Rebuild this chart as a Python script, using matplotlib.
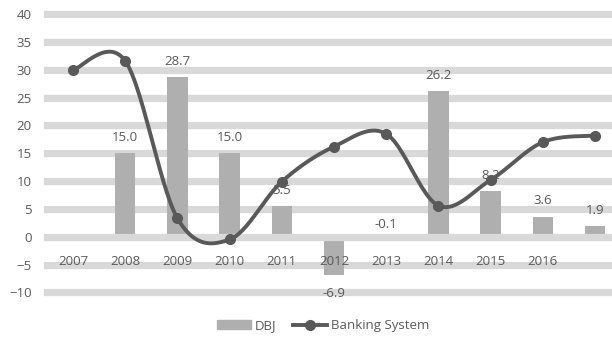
import numpy as np
import matplotlib.pyplot as plt

plt.rcParams['font.family'] = ['Open Sans', 'DejaVu Sans']

years = ['2007', '2008', '2009', '2010', '2011', '2012', '2013', '2014', '2015', '2016', '']
dbj = [np.nan, 15.0, 28.7, 15.0, 5.5, -6.9, -0.1, 26.2, 8.2, 3.6, 1.9]
banking = [30.0, 31.6, 3.3, -0.5, 9.9, 16.2, 18.5, 5.6, 10.2, 17.0, 18.2]

txt = '#595959'
bar_c = '#afafaf'
grid_c = '#d9d9d9'


def smooth(xs, ys, n=30):
    # Catmull-Rom curve through the points, like a spreadsheet "smoothed line"
    x = np.asarray(xs, float)
    y = np.asarray(ys, float)
    px = np.concatenate([[x[0]], x, [x[-1]]])
    py = np.concatenate([[y[0]], y, [y[-1]]])
    ox, oy = [], []
    t = np.linspace(0, 1, n)
    for i in range(1, len(px) - 2):
        for p, out in ((px, ox), (py, oy)):
            p0, p1, p2, p3 = p[i - 1], p[i], p[i + 1], p[i + 2]
            c = 0.5 * ((2 * p1) + (-p0 + p2) * t + (2 * p0 - 5 * p1 + 4 * p2 - p3) * t ** 2
                       + (-p0 + 3 * p1 - 3 * p2 + p3) * t ** 3)
            out.extend(c)
    return np.array(ox), np.array(oy)


fig = plt.figure(figsize=(6.12, 3.37), dpi=100)
ax = fig.add_axes([47 / 612, 44.7 / 337, 574 / 612, 278 / 337])
ax.set_xlim(-0.5, 10.5)
ax.set_ylim(-10, 40)

# grid bands behind the bars, except the zero line which sits on top
for v in range(-10, 41, 5):
    ax.axhline(v, color=grid_c, lw=5.2, zorder=1.3 if v == 0 else 0.5, clip_on=False)

xs = np.arange(len(years))
ax.bar(xs, dbj, width=0.39, color=bar_c, zorder=1.2, label='DBJ')

for x, v in zip(xs, dbj):
    if np.isnan(v):
        continue
    if v > -1:
        off = 12 if v < 0 else 16
        y = max(v, 0)
    else:
        off = -18
        y = v
    ax.annotate(f'{v:.1f}', (x, y), xytext=(0, off * 0.72), textcoords='offset points',
                ha='center', va='center', fontsize=9.5, color=txt, zorder=4)

sx, sy = smooth(xs, banking)
ax.plot(sx, sy, color='#595959', lw=2.8, zorder=5, solid_capstyle='round')
ax.plot(xs, banking, 'o', color='#595959', ms=7, zorder=6)
line_handle = plt.Line2D([], [], color='#595959', lw=2.8, marker='o', ms=7)

ax.set_xticks(xs)
ax.set_xticklabels(years)
ax.spines['bottom'].set_position(('data', 0))
for s in ax.spines.values():
    s.set_visible(False)
ax.tick_params(axis='x', length=0, pad=13, labelsize=9.5, labelcolor=txt)
ax.set_yticks(range(-10, 41, 5))
ax.tick_params(axis='y', length=0, pad=11, labelsize=9.5, labelcolor=txt)

bar_handle = plt.Rectangle((0, 0), 1, 1, color=bar_c)
fig.legend([bar_handle, line_handle], ['DBJ', 'Banking System'], loc='center',
           bbox_to_anchor=(323 / 612, 1 - 325.5 / 337), ncol=2, frameon=False,
           fontsize=9.5, labelcolor=txt, handlelength=2.6, handleheight=0.6,
           columnspacing=1.2, handletextpad=0.3)

fig.savefig('out.png', dpi=100)
